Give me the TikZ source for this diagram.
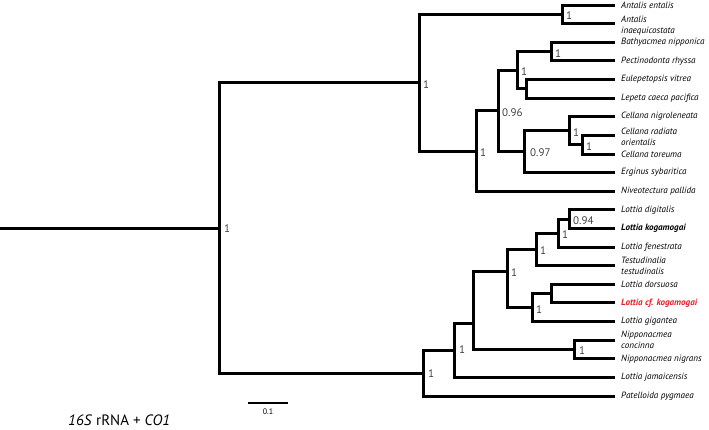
\documentclass[tikz,border=0pt]{standalone}
\usepackage{fontspec}
\setmainfont{PT Sans}
\usetikzlibrary{calc}
\definecolor{redlab}{RGB}{228,30,38}
\begin{document}
\begin{tikzpicture}[x=1pt,y=-1pt,
  br/.style={line width=3pt, line join=miter, line cap=butt},
  tip/.style={anchor=west, inner sep=0pt, font=\fontsize{9.1}{11}\selectfont\itshape, align=left},
  supp/.style={anchor=west, inner sep=0pt, font=\fontsize{11}{13}\selectfont, text=black!75}]
\useasboundingbox (0,0) rectangle (709,429);
% tip ends
\foreach \i/\y in {0/5.0,1/23.6,2/42.2,3/60.9,4/79.5,5/98.1,6/116.7,7/135.3,8/154.0,9/172.6,10/191.2,11/209.8,12/228.4,13/247.1,14/265.7,15/284.3,16/302.9,17/321.5,18/340.2,19/358.8,20/377.4,21/396.0}{
  \coordinate (t\i) at (615,\y);
}
% tip labels
\node[tip] (l0) at (621,5.0) {Antalis entalis};
\node[tip] (l1) at (621,25.2) {Antalis\\inaequicostata};
\node[tip] (l2) at (621,42.2) {Bathyacmea nipponica};
\node[tip] (l3) at (621,60.9) {Pectinodonta rhyssa};
\node[tip] (l4) at (621,79.5) {Eulepetopsis vitrea};
\node[tip] (l5) at (621,98.1) {Lepeta caeca pacifica};
\node[tip] (l6) at (621,116.7) {Cellana nigroleneata};
\node[tip] (l7) at (621,136.8) {Cellana radiata\\orientalis};
\node[tip] (l8) at (621,154.0) {Cellana toreuma};
\node[tip] (l9) at (621,172.6) {Erginus sybaritica};
\node[tip] (l10) at (621,191.2) {Niveotectura pallida};
\node[tip] (l11) at (621,209.8) {Lottia digitalis};
\node[tip] (l12) at (621,228.4) {\bfseries Lottia kogamogai};
\node[tip] (l13) at (621,247.1) {Lottia fenestrata};
\node[tip] (l14) at (621,266.2) {Testudinalia\\testudinalis};
\node[tip] (l15) at (621,284.3) {Lottia dorsuosa};
\node[tip, text=redlab] (l16) at (621,302.9) {\bfseries Lottia cf. kogamogai};
\node[tip] (l17) at (621,321.5) {Lottia gigantea};
\node[tip] (l18) at (621,340.2) {Nipponacmea\\concinna};
\node[tip] (l19) at (621,358.8) {Nipponacmea nigrans};
\node[tip] (l20) at (621,377.4) {Lottia jamaicensis};
\node[tip] (l21) at (621,396.0) {Patelloida pygmaea};
% internal nodes
\coordinate (A) at (562,14.3);
\coordinate (B) at (551,51.6);
\coordinate (C) at (526,88.8);
\coordinate (D) at (517,70.2);
\coordinate (E) at (582,144.7);
\coordinate (F) at (569,130.7);
\coordinate (G) at (524,151.6);
\coordinate (H) at (498,110.9);
\coordinate (I) at (476,151.0);
\coordinate (J) at (419,82.7);
\coordinate (K) at (569,219.1);
\coordinate (L) at (558,233.1);
\coordinate (M) at (536,249.4);
\coordinate (N) at (551,293.6);
\coordinate (O) at (532,307.6);
\coordinate (P) at (507,271.0);
\coordinate (R) at (574,349.5);
\coordinate (Q) at (473,323.0);
\coordinate (S) at (454,350.0);
\coordinate (T) at (423,373.0);
\coordinate (Rt) at (219,228.0);
\coordinate (R0) at (0,228.0);
% branches
\draw[br] (t0) -| (A) |- (t1);
\draw[br] (t2) -| (B) |- (t3);
\draw[br] (t4) -| (C) |- (t5);
\draw[br] (B) -| (D) |- (C);
\draw[br] (t7) -| (E) |- (t8);
\draw[br] (t6) -| (F) |- (E);
\draw[br] (F) -| (G) |- (t9);
\draw[br] (D) -| (H) |- (G);
\draw[br] (H) -| (I) |- (t10);
\draw[br] (A) -| (J) |- (I);
\draw[br] (t11) -| (K) |- (t12);
\draw[br] (K) -| (L) |- (t13);
\draw[br] (L) -| (M) |- (t14);
\draw[br] (t15) -| (N) |- (t16);
\draw[br] (N) -| (O) |- (t17);
\draw[br] (M) -| (P) |- (O);
\draw[br] (t18) -| (R) |- (t19);
\draw[br] (P) -| (Q) |- (R);
\draw[br] (Q) -| (S) |- (t20);
\draw[br] (S) -| (T) |- (t21);
\draw[br] (J) -| (Rt) |- (T);
\draw[br] (R0) -- (Rt);
% support values
\node[supp] (sA) at ($(A)+(4,1.5)$) {1};
\node[supp] (sB) at ($(B)+(4,1.5)$) {1};
\node[supp] (sD) at ($(D)+(4,1.5)$) {1};
\node[supp] (sE) at ($(E)+(4,1.5)$) {1};
\node[supp] (sF) at ($(F)+(4,1.5)$) {1};
\node[supp] (sG) at ($(G)+(6,1.5)$) {0.97};
\node[supp] (sH) at ($(H)+(4,1.5)$) {0.96};
\node[supp] (sI) at ($(I)+(4,1.5)$) {1};
\node[supp] (sJ) at ($(J)+(4,1.5)$) {1};
\node[supp] (sK) at ($(K)+(4,1.5)$) {0.94};
\node[supp] (sL) at ($(L)+(4,1.5)$) {1};
\node[supp] (sM) at ($(M)+(4,1.5)$) {1};
\node[supp] (sO) at ($(O)+(4,1.5)$) {1};
\node[supp] (sP) at ($(P)+(4,1.5)$) {1};
\node[supp] (sR) at ($(R)+(5,1)$) {1};
\node[supp] (sS) at ($(S)+(5,0)$) {1};
\node[supp] (sT) at ($(T)+(5,1)$) {1};
\node[supp] (sRt) at ($(Rt)+(5,1)$) {1};
% scale bar
\coordinate (sb1) at (248,403);
\coordinate (sb2) at (288,403);
\draw[line width=2.4pt] (sb1) -- (sb2);
\node[inner sep=0pt, font=\fontsize{8}{9}\selectfont] (sbl) at (268,412) {0.1};
% title
\node[anchor=base west, inner sep=0pt, font=\fontsize{15}{17}\selectfont] (title) at (68,425) {\textit{16S} rRNA + \textit{CO1}};
\end{tikzpicture}
\end{document}
